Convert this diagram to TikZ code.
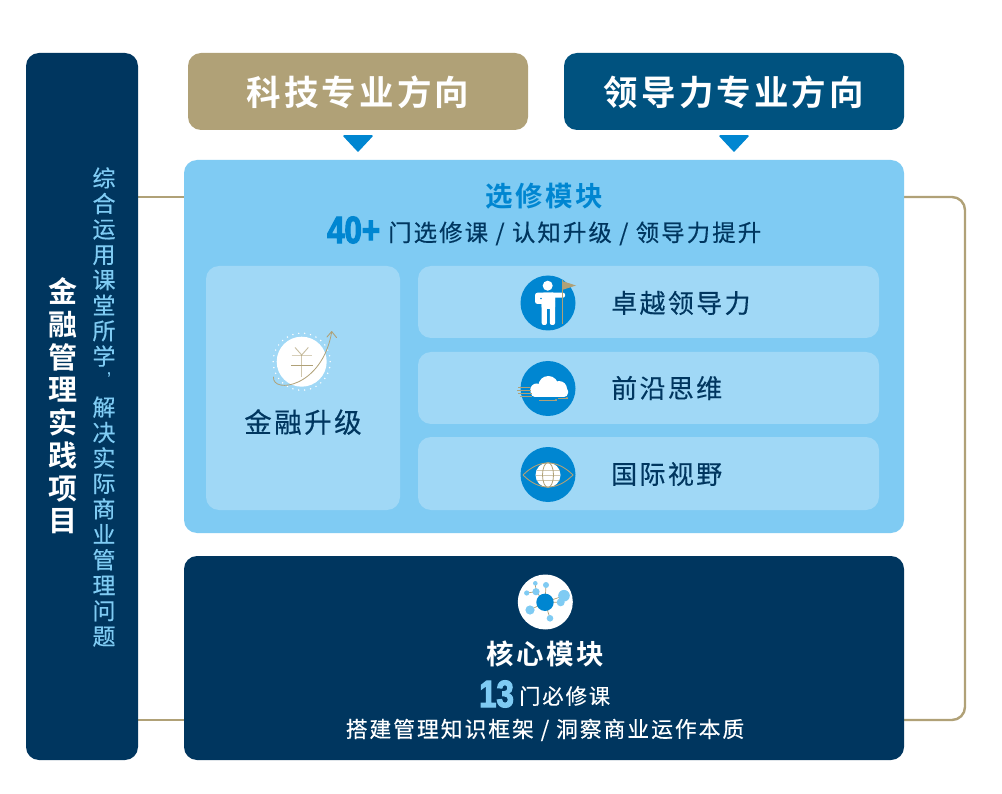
\documentclass[tikz,border=0pt]{standalone}
\usepackage{fontspec}
\setmainfont{Liberation Sans}
\newfontfamily\cjk[FakeBold=0.35]{Noto Sans CJK SC}
\newfontfamily\cjkb{Noto Sans CJK SC Bold}
\newfontfamily\cjksp[LetterSpace=9,FakeBold=0.35]{Noto Sans CJK SC}
\newfontfamily\cjkbsp[LetterSpace=9]{Noto Sans CJK SC Bold}
\newfontfamily\numf[FakeStretch=0.82,FakeBold=3]{Liberation Sans Bold}
\definecolor{navy}{HTML}{00365F}
\definecolor{deepblue}{HTML}{00527F}
\definecolor{tanc}{HTML}{B0A177}
\definecolor{skyb}{HTML}{7FCBF3}
\definecolor{paleb}{HTML}{A0D8F6}
\definecolor{accent}{HTML}{0086D1}
\newcommand{\fs}[1]{\fontsize{#1}{#1}\selectfont}
\tikzset{
 x=1pt,y=-1pt,
 block/.style={rounded corners=13pt,inner sep=0pt},
 txt/.style={inner sep=0pt,font=\cjksp},
 btxt/.style={inner sep=0pt,font=\cjkbsp},
 link/.style={draw=tanc,line width=2.4pt},
 icondisc/.style={fill=accent},
}
\begin{document}
\begin{tikzpicture}
\useasboundingbox (0,0) rectangle (1002,794);
\fill[white] (0,0) rectangle (1002,794);
% connectors (behind the blocks)
\coordinate (c1) at (138,197);
\coordinate (c2) at (184,197);
\coordinate (c3) at (138,720);
\coordinate (c4) at (184,720);
\coordinate (c5) at (904,197);
\coordinate (c6) at (904,720);
\draw[link] (c1) -- (c2);
\draw[link] (c3) -- (c4);
\draw[link,rounded corners=13pt] (c5) -- (965,197) -- (965,720) -- (c6);
% blocks
\fill[navy,block] (26,53) rectangle (138,760);
\fill[tanc,block] (188,53) rectangle (528,130);
\fill[deepblue,block] (564,53) rectangle (904,130);
\fill[skyb,block] (184,160) rectangle (904,533);
\fill[navy,block] (184,556) rectangle (904,760);
\fill[paleb,block] (206,266) rectangle (400,510);
\fill[paleb,block] (418,266) rectangle (879,338);
\fill[paleb,block] (418,352) rectangle (879,424);
\fill[paleb,block] (418,437) rectangle (879,510);
% pointers
\fill[accent,draw=accent,line width=1.5pt,line join=round] (344,136) -- (372,136) -- (358,151) -- cycle;
\fill[accent,draw=accent,line width=1.5pt,line join=round] (720,136) -- (748,136) -- (734,151) -- cycle;
% headers
\node[btxt,text=white] (h1) at (358,92) {\fs{34.5}科技专业方向};
\node[btxt,text=white] (h2) at (734,92) {\fs{34.5}领导力专业方向};
% left bar
\node[inner sep=0pt,align=center,text=white,font=\cjkb\fontsize{29}{32.7}\selectfont] (lb1) at (63,406) {金\\融\\管\\理\\实\\践\\项\\目};
\node[inner sep=0pt,align=center,text=skyb,font=\cjk\fontsize{23}{25.45}\selectfont] (lb2) at (104,407) {综\\合\\运\\用\\课\\堂\\所\\学\\\phantom{学}\\解\\决\\实\\际\\商\\业\\管\\理\\问\\题};
\node[inner sep=0pt,text=skyb,font=\fs{20}] (lb3) at (109,380) {'};
% elective
\node[btxt,text=accent] (e1) at (544,196) {\fs{27.5}选修模块};
\node[inner sep=0pt,anchor=west,text=accent,font=\numf\fs{38}] (e2) at (327,230) {40+};
\node[txt,text=navy,anchor=west] (e3) at (388,233.5) {\fs{23.4}门选修课 / 认知升级 / 领导力提升};
\node[txt,text=navy] (f1) at (303,422) {\fs{27.5}金融升级};
\node[txt,text=navy,anchor=west] (r1) at (611,303) {\fs{26}卓越领导力};
\node[txt,text=navy,anchor=west] (r2) at (611,388) {\fs{26}前沿思维};
\node[txt,text=navy,anchor=west] (r3) at (611,474) {\fs{26}国际视野};
% core
\node[btxt,text=white] (k1) at (545,654) {\fs{27.5}核心模块};
\node[inner sep=0pt,anchor=west,text=skyb,font=\numf\fs{38}] (k2) at (479,694) {13};
\node[txt,text=white,anchor=west] (k3) at (519,696) {\fs{21.3}门必修课};
\node[txt,text=white] (k4) at (545,730) {\fs{21.8}搭建管理知识框架 / 洞察商业运作本质};
% finance icon
\fill[white] (301.7,361.7) circle (25);
\foreach \a in {0,12,...,348} \fill[white] ({301.7+28.5*cos(\a)},{361.7+28.5*sin(\a)}) circle (.8);
\draw[tanc,line width=.9pt,opacity=.7] (295,347.5) -- (301.7,355) -- (308.3,347.5);
\draw[tanc,line width=.9pt,opacity=.5] (291.7,355.7) -- (311.7,355.7);
\draw[tanc,line width=.9pt] (291,365) -- (312.5,365);
\draw[tanc,line width=.9pt,opacity=.6] (301.7,355) -- (301.7,377);
\draw[tanc,line width=.8pt,line cap=round] (273.5,377) .. controls (272,394) and (322,388) .. (331.7,332);
\draw[tanc,line width=.9pt,line cap=round,line join=round] (327,337) -- (331.7,331.5) -- (336.5,337.5);
% leadership icon
\fill[icondisc] (548,303) circle (27.5);
\fill[white] (547.7,285.7) circle (5);
\fill[white,rounded corners=2.5pt] (535,292.7) rectangle (555,304);
\fill[white,rounded corners=2pt] (541.7,292.7) rectangle (555,309);
\fill[white,rounded corners=2pt] (550,292.7) rectangle (565,297.7);
\fill[white,rounded corners=2pt] (541.7,300) rectangle (546.9,325);
\fill[white,rounded corners=2pt] (549.9,300) rectangle (555,325);
\fill[accent] (541,298.5) circle (.8);
\draw[tanc,line width=1pt] (562,280) -- (562,324);
\fill[tanc] (562,281) -- (576,285.5) -- (562,290) -- cycle;
% cloud icon
\fill[icondisc] (548,388.5) circle (27.5);
\fill[white] (536.7,390) circle (6.5) (548.3,386) circle (10) (559,389) circle (8);
\fill[white,rounded corners=4pt] (531,387) rectangle (568,397);
\draw[tanc,line width=.8pt] (518,387) -- (530,387) (517,390.5) -- (531,390.5) (518,393.5) -- (532,393.5) (520,396) -- (532,396);
\draw[tanc,line width=.8pt] (539,400) -- (557,400) (558,398) -- (568,398);
\fill[tanc] (556,400) circle (1.1) (567,398) circle (1.1);
% globe icon
\fill[icondisc] (548,474.5) circle (27.5);
\fill[white] (548,475) circle (12.5);
\draw[tanc,line width=.9pt] (523,475) .. controls (539,459) and (557,459) .. (573,475) .. controls (557,491) and (539,491) .. (523,475);
\draw[tanc,line width=.8pt] (548,475) ellipse (5.5 and 12.5);
\draw[tanc,line width=1pt,opacity=.6] (536.5,470.5) -- (559.5,470.5) (536,475.5) -- (560,475.5) (536.5,480) -- (559.5,480);
% network icon
\fill[white] (545.3,602) circle (27.5);
\draw[tanc,line width=.7pt] (545,602.3) -- (564,595.7) (545,602.3) -- (560.7,602.3) (545,602.3) -- (530,610) (545,602.3) -- (536,591.7) -- (526.7,593) (536,591.7) -- (535.3,583.3) (545,602.3) -- (546,585) (545,602.3) -- (550,618.3);
\fill[skyb] (564,595.7) circle (5.8) (560.7,602.3) circle (4) (530,610) circle (4.6) (536,591.7) circle (3.6) (526.7,593) circle (2.6) (535.3,583.3) circle (2.3) (546,585) circle (3) (550,618.3) circle (3.3);
\fill[accent] (545,602.3) circle (8.7);
\end{tikzpicture}
\end{document}
